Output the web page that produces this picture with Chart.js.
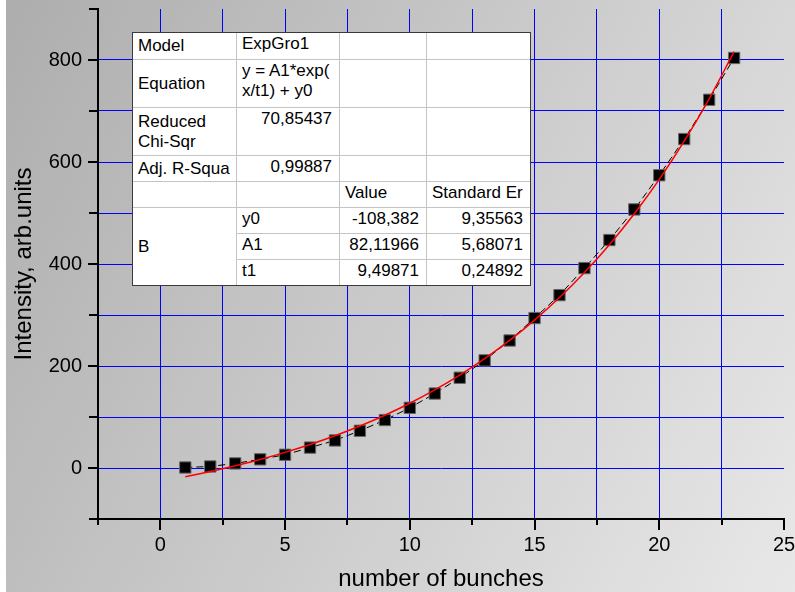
<!DOCTYPE html>
<html>
<head>
<meta charset="utf-8">
<script src="https://cdn.jsdelivr.net/npm/chart.js@4.4.1/dist/chart.umd.min.js"></script>
<style>
  html, body { margin: 0; padding: 0; background: #fff; }
  #wrap { position: relative; width: 795px; height: 592px; overflow: hidden; }
  #wrap canvas { position: absolute; left: 0; top: 0; }
  #fit {
    position: absolute; left: 132px; top: 32px;
    border: 1px solid #3a3a3a; background: #fff;
    display: grid;
    grid-template-columns: 104px 103px 87px 103px;
    grid-template-rows: 27px 48px 48px 26px 26px 26px 26px 25px;
    font: 17px "Liberation Sans", Arial, sans-serif; line-height: 20px; color: #000;
  }
  #fit div {
    box-sizing: border-box; white-space: nowrap; overflow: hidden;
    border-right: 1px solid #c4c4c4; border-bottom: 1px solid #c4c4c4;
    padding: 1px 7px 0 5px;
  }
  #fit div.mid { display: flex; align-items: center; padding-top: 0; }
  #fit div.num { text-align: right; }
  #fit div.lastcol { border-right: none; }
  #fit div.lastrow { border-bottom: none; }
</style>
</head>
<body>
<div id="wrap">
  <canvas id="chart" width="795" height="592"></canvas>
  <div id="fit"></div>
</div>
<script>
// Measured intensity versus number of bunches
const bunches   = [1, 2, 3, 4, 5, 6, 7, 8, 9, 10, 11, 12, 13, 14, 15, 16, 17, 18, 19, 20, 21, 22, 23];
const intensity = [1, 3, 9, 17, 26, 40, 54, 73, 94, 118, 146, 177, 211, 250, 294, 339, 392, 447, 507, 574, 645, 722, 804];

// ExpGro1 fit results: y = A1*exp(x/t1) + y0
const fitModel    = 'ExpGro1';
const fitEquation = ['y = A1*exp(', 'x/t1) + y0'];
const paramNames  = ['y0', 'A1', 't1'];
const paramValues = [-108.382, 82.11966, 9.49871];
const paramErrors = [9.35563, 5.68071, 0.24892];
const reducedChiSqr = 70.85437;
const adjRSquare    = 0.99887;

// Labelled tick values
const xLabelValues = [0, 5, 10, 15, 20, 25];
const yLabelValues = [0, 200, 400, 600, 800];

const [y0, A1, t1] = paramValues;
const fitCurve = bunches.map(x => ({ x, y: A1 * Math.exp(x / t1) + y0 }));
const points = bunches.map((x, i) => ({ x, y: intensity[i] }));

// ---- results table ----
const comma = v => String(v).replace('.', ',');
const cells = [
  ['Model', 'mid'], [fitModel, ''], ['', ''], ['', 'lastcol'],
  ['Equation', 'mid'], [fitEquation.join('<br>'), ''], ['', ''], ['', 'lastcol'],
  ['Reduced<br>Chi-Sqr', 'mid'], [comma(reducedChiSqr), 'num'], ['', ''], ['', 'lastcol'],
  ['Adj. R-Squa', 'mid'], [comma(adjRSquare), 'num'], ['', ''], ['', 'lastcol'],
  ['', 'mid'], ['', ''], ['Value', ''], ['Standard Er', 'lastcol'],
];
const tbl = document.getElementById('fit');
cells.forEach(([html, cls]) => {
  const d = document.createElement('div');
  d.className = cls; d.innerHTML = html; tbl.appendChild(d);
});
const b = document.createElement('div');
b.className = 'mid lastrow'; b.style.gridRow = 'span 3'; b.textContent = 'B';
tbl.appendChild(b);
paramNames.forEach((name, i) => {
  const last = i === paramNames.length - 1 ? ' lastrow' : '';
  [[name, ''], [comma(paramValues[i]), 'num'], [comma(paramErrors[i]), 'num lastcol']].forEach(([t, c]) => {
    const d = document.createElement('div');
    d.className = c + last; d.textContent = t; tbl.appendChild(d);
  });
});

// ---- chart ----
const frame = {
  id: 'frame',
  beforeDraw(chart) {
    const c = chart.ctx;
    c.save();
    c.fillStyle = '#fff';
    c.fillRect(0, 0, chart.width, chart.height);
    const g = c.createLinearGradient(0, 0, 864, 464);
    g.addColorStop(0, '#adadad');
    g.addColorStop(1, '#e8e8e8');
    c.fillStyle = g;
    c.fillRect(6, 0, chart.width - 6, chart.height);
    c.restore();
  },
  afterDraw(chart) {
    const c = chart.ctx, xs = chart.scales.x, ys = chart.scales.y;
    c.save();
    c.strokeStyle = '#000';
    c.lineWidth = 2;
    c.beginPath();
    xs.ticks.forEach(t => {
      const p = Math.round(xs.getPixelForValue(t.value));
      const len = xLabelValues.includes(t.value) ? 11 : 6;
      c.moveTo(p, xs.top); c.lineTo(p, xs.top + len);
    });
    ys.ticks.forEach(t => {
      const p = Math.round(ys.getPixelForValue(t.value));
      const len = yLabelValues.includes(t.value) ? 10 : 9;
      c.moveTo(ys.right - len, p); c.lineTo(ys.right, p);
    });
    c.stroke();
    c.restore();
  }
};

Chart.defaults.font.family = '"Liberation Sans", Arial, sans-serif';
Chart.defaults.color = '#000';

new Chart(document.getElementById('chart'), {
  type: 'scatter',
  data: {
    datasets: [
      {
        label: 'ExpGro1 fit',
        data: fitCurve,
        showLine: true,
        borderColor: '#ff0000',
        borderWidth: 1.5,
        pointRadius: 0,
        cubicInterpolationMode: 'monotone',
        fill: false
      },
      {
        label: 'B',
        data: points,
        showLine: true,
        borderColor: '#000',
        borderWidth: 1,
        borderDash: [7, 4],
        pointStyle: 'rect',
        pointRadius: 8,
        pointBackgroundColor: '#000',
        pointBorderColor: '#666',
        pointBorderWidth: 1
      }
    ]
  },
  options: {
    responsive: false,
    animation: false,
    layout: { padding: { top: 9, right: 11, left: 0, bottom: 0 } },
    plugins: { legend: { display: false }, tooltip: { enabled: false } },
    scales: {
      x: {
        type: 'linear', min: -2.5, max: 25,
        afterFit: s => { s.height = 73; s.paddingLeft = 0; s.paddingRight = 0; },
        ticks: {
          stepSize: 2.5, padding: 3, maxRotation: 0, autoSkip: false,
          font: { size: 20 }, color: '#000',
          callback: v => xLabelValues.includes(v) ? String(v) : ''
        },
        grid: {
          color: ctx => (ctx.tick && (ctx.tick.value <= -2.5 || ctx.tick.value >= 25)) ? 'rgba(0,0,0,0)' : '#0000ff',
          lineWidth: 1, drawTicks: true, tickLength: 11, tickColor: 'rgba(0,0,0,0)'
        },
        border: { display: true, color: '#000', width: 2 },
        title: { display: true, text: 'number of bunches', font: { size: 24 }, color: '#000', padding: { top: 0, bottom: -2 } }
      },
      y: {
        type: 'linear', min: -100, max: 900,
        afterFit: s => { s.width = 98; s.paddingTop = 0; s.paddingBottom = 0; },
        ticks: {
          stepSize: 100, padding: 6, autoSkip: false,
          font: { size: 20 }, color: '#000',
          callback: v => yLabelValues.includes(v) ? String(v) : ''
        },
        grid: {
          color: ctx => (ctx.tick && (ctx.tick.value <= -100 || ctx.tick.value >= 900)) ? 'rgba(0,0,0,0)' : '#0000ff',
          lineWidth: 1, drawTicks: true, tickLength: 10, tickColor: 'rgba(0,0,0,0)'
        },
        border: { display: true, color: '#000', width: 2 },
        title: { display: true, text: 'Intensity, arb.units', font: { size: 24 }, color: '#000', padding: { top: 10, bottom: 0 } }
      }
    }
  },
  plugins: [frame]
});
</script>
</body>
</html>
